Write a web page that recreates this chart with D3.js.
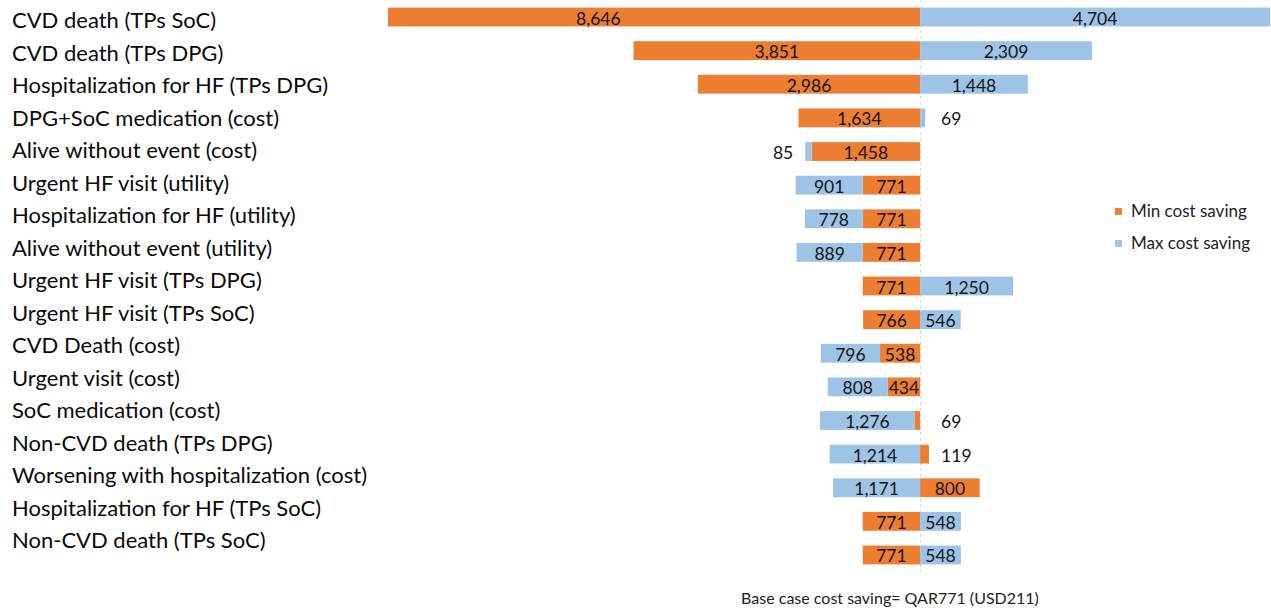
<!DOCTYPE html>
<html>
<head>
<meta charset="utf-8">
<script src="https://cdn.jsdelivr.net/npm/d3@7"></script>
<style>
  html, body { margin: 0; padding: 0; background: #fff; }
  svg { display: block; }
  text { font-family: Lato, "Open Sans", sans-serif; }
</style>
</head>
<body>
<svg id="chart" width="1271" height="613"></svg>
<script>
// ---- data ----
const categories = [
  "CVD death (TPs SoC)",
  "CVD death (TPs DPG)",
  "Hospitalization for HF (TPs DPG)",
  "DPG+SoC medication (cost)",
  "Alive without event (cost)",
  "Urgent HF visit (utility)",
  "Hospitalization for HF (utility)",
  "Alive without event (utility)",
  "Urgent HF visit (TPs DPG)",
  "Urgent HF visit (TPs SoC)",
  "CVD Death (cost)",
  "Urgent visit (cost)",
  "SoC medication (cost)",
  "Non-CVD death (TPs DPG)",
  "Worsening with hospitalization (cost)",
  "Hospitalization for HF (TPs SoC)",
  "Non-CVD death (TPs SoC)"
];
// signed values: negative = drawn to the left of the axis
const minCostSaving = [-8646, -3851, -2986, -1634, -1458, -771, -771, -771, -771, -766, -538, -434, -69, 119, 800, -771, -771];
const maxCostSaving = [4704, 2309, 1448, 69, -85, -901, -778, -889, 1250, 546, -796, -808, -1276, -1214, -1171, 548, 548];
const seriesNames = ["Min cost saving", "Max cost saving"];
const footnote = "Base case cost saving= QAR771 (USD211)";

// ---- layout ----
const W = 1271, H = 613;
const colors = { "Min cost saving": "#ED7D31", "Max cost saving": "#9DC3E6" };
const svg = d3.select("#chart");
svg.append("rect").attr("width", W).attr("height", H).attr("fill", "#fff");

const x = d3.scaleLinear().domain([-7150, 4715]).range([388, 1271]);
const y = d3.scaleBand().domain(categories).range([0.2, 571.8]).paddingInner(0.44).paddingOuter(0.22);
const yLabel = d3.scalePoint().domain(categories).range([28, 548]);

// build stacked segments
const segments = [];
categories.forEach((c, i) => {
  const a = minCostSaving[i], b = maxCostSaving[i];
  const aSeg = { cat: c, series: seriesNames[0], v: a, x0: 0, x1: a };
  const bStart = (Math.sign(a) === Math.sign(b)) ? a : 0;
  const bSeg = { cat: c, series: seriesNames[1], v: b, x0: bStart, x1: bStart + b };
  aSeg.outer = !(Math.sign(a) === Math.sign(b));
  bSeg.outer = true;
  segments.push(aSeg, bSeg);
});

svg.append("defs").append("clipPath").attr("id", "plotclip")
  .append("rect").attr("x", x.range()[0]).attr("y", 0)
  .attr("width", x.range()[1] - x.range()[0]).attr("height", H);

// dashed zero line
svg.append("line")
  .attr("x1", x(0) + 0.5).attr("x2", x(0) + 0.5)
  .attr("y1", 0).attr("y2", 572)
  .attr("stroke", "#d6d6d6").attr("stroke-width", 1).attr("stroke-dasharray", "3,3");

const g = svg.append("g").attr("clip-path", "url(#plotclip)");
g.selectAll("rect.bar").data(segments).join("rect")
  .attr("class", "bar")
  .attr("x", d => Math.min(x(d.x0), x(d.x1)))
  .attr("width", d => Math.abs(x(d.x1) - x(d.x0)))
  .attr("y", d => y(d.cat))
  .attr("height", y.bandwidth())
  .attr("fill", d => colors[d.series]);

// value labels
const fmt = d3.format(",");
svg.selectAll("text.val").data(segments).join("text")
  .attr("class", "val")
  .attr("font-size", 17.5)
  .attr("fill", "#141414")
  .attr("dominant-baseline", "central")
  .attr("y", d => y(d.cat) + y.bandwidth() / 2 + 1)
  .each(function(d) {
    const w = Math.abs(x(d.x1) - x(d.x0));
    const t = d3.select(this).text(fmt(Math.abs(d.v)));
    if (w >= 25) {
      t.attr("x", (x(d.x0) + x(d.x1)) / 2).attr("text-anchor", "middle");
    } else if (d.outer && d.x1 < 0) {
      t.attr("x", x(d.x1) - 12).attr("text-anchor", "end");
    } else {
      t.attr("x", x(0) + 21).attr("text-anchor", "start");
    }
  });

// category labels
svg.selectAll("text.cat").data(categories).join("text")
  .attr("class", "cat")
  .attr("x", 12)
  .attr("y", d => yLabel(d))
  .attr("font-size", 22)
  .attr("fill", "#0a0a0a")
  .text(d => d);

// legend
const lg = svg.append("g").attr("transform", "translate(1115,208)");
seriesNames.forEach((s, i) => {
  lg.append("rect").attr("x", 0).attr("y", i * 32).attr("width", 7).attr("height", 7).attr("fill", colors[s]);
  lg.append("text").attr("x", 16).attr("y", i * 32 + 9).attr("font-size", 17).attr("fill", "#222").text(s);
});

// footnote
svg.append("text")
  .attr("x", 890).attr("y", 604)
  .attr("text-anchor", "middle")
  .attr("font-size", 16)
  .attr("fill", "#222")
  .text(footnote);
</script>
</body>
</html>
